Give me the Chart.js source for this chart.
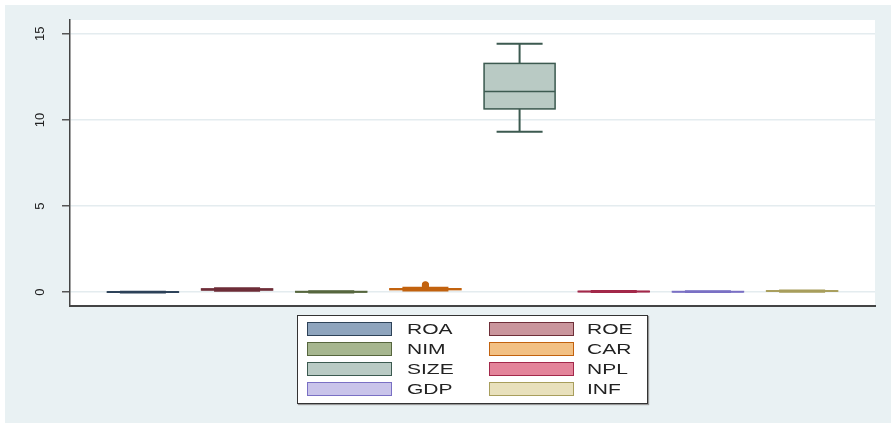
<!DOCTYPE html>
<html>
<head>
<meta charset="utf-8">
<script src="https://cdn.jsdelivr.net/npm/chart.js@4.4.0/dist/chart.umd.min.js"></script>
<style>
  html, body { margin: 0; padding: 0; background: #fff; }
  #wrap { position: relative; width: 891px; height: 423px; }
  #legend { position: absolute; left: 297px; top: 315px; width: 349px; height: 87px;
            background: #fff; border: 1px solid #333; box-shadow: 1px 1px 1px #999; }
  .sw { position: absolute; width: 83px; height: 12px; border: 1px solid; }
  .lb { position: absolute; font: 15px "Liberation Sans", Arial, sans-serif; color: #222;
        line-height: 15px; transform: scaleX(1.4); transform-origin: left center; }
</style>
</head>
<body>
<div id="wrap">
  <canvas id="box" width="891" height="423"></canvas>
  <div id="legend"></div>
</div>
<script>
// variables and their box plot summaries
const labels = ['ROA', 'ROE', 'NIM', 'CAR', 'SIZE', 'NPL', 'GDP', 'INF'];
const positions = [1, 2, 3, 4, 5, 6, 7, 8];
const lowerWhisker = [-0.02, 0.08, -0.01, 0.1, 9.32, 0.01, 0.01, 0.03];
const q1 = [0.0, 0.13, 0.01, 0.15, 10.64, 0.03, 0.02, 0.06];
const median = [0.01, 0.16, 0.02, 0.17, 11.65, 0.04, 0.03, 0.07];
const q3 = [0.02, 0.19, 0.04, 0.2, 13.28, 0.05, 0.04, 0.08];
const upperWhisker = [0.03, 0.23, 0.06, 0.26, 14.42, 0.07, 0.05, 0.1];
const outliers = [[], [], [], [0.32, 0.36, 0.4, 0.43], [], [], [], []];
const yTicks = [0, 5, 10, 15];

const fillColors = ['#8ea4bd', '#c9959c', '#a6b68f', '#f2c083', '#b9cac4', '#e3849a', '#c9c4ea', '#e8e0bc'];
const lineColors = ['#2d4258', '#6e2e38', '#56663e', '#c2620e', '#3c5a50', '#a3284a', '#7a70c4', '#a89e5c'];

// page background + white plot region
const background = {
  id: 'background',
  beforeDraw(chart) {
    const { ctx, chartArea: a } = chart;
    ctx.save();
    ctx.fillStyle = '#fff';
    ctx.fillRect(0, 0, chart.width, chart.height);
    ctx.fillStyle = '#e9f1f3';
    ctx.fillRect(5, 5, chart.width - 5, chart.height - 5);
    ctx.fillStyle = '#fff';
    ctx.fillRect(a.left, a.top, a.right - a.left, a.bottom - a.top);
    ctx.restore();
  }
};

// boxes, whiskers, medians and outside values
const boxParts = {
  id: 'boxParts',
  afterDatasetsDraw(chart) {
    const { ctx } = chart;
    const x = chart.scales.x, y = chart.scales.y;
    const bars = chart.getDatasetMeta(0).data;
    ctx.save();
    positions.forEach((p, i) => {
      const cx = x.getPixelForValue(p);
      const hw = bars[i].width / 2;
      const cap = 23;
      ctx.strokeStyle = lineColors[i];
      ctx.lineWidth = 2;
      ctx.beginPath();
      ctx.moveTo(cx, y.getPixelForValue(q3[i]));
      ctx.lineTo(cx, y.getPixelForValue(upperWhisker[i]));
      ctx.moveTo(cx, y.getPixelForValue(q1[i]));
      ctx.lineTo(cx, y.getPixelForValue(lowerWhisker[i]));
      ctx.moveTo(cx - cap, y.getPixelForValue(upperWhisker[i]));
      ctx.lineTo(cx + cap, y.getPixelForValue(upperWhisker[i]));
      ctx.moveTo(cx - cap, y.getPixelForValue(lowerWhisker[i]));
      ctx.lineTo(cx + cap, y.getPixelForValue(lowerWhisker[i]));
      ctx.stroke();
      ctx.lineWidth = 1.5;
      const top = y.getPixelForValue(q3[i]);
      const bot = y.getPixelForValue(q1[i]);
      ctx.strokeRect(cx - hw, top, hw * 2, bot - top);
      ctx.beginPath();
      ctx.moveTo(cx - hw, y.getPixelForValue(median[i]));
      ctx.lineTo(cx + hw, y.getPixelForValue(median[i]));
      ctx.stroke();
      outliers[i].forEach(v => {
        ctx.beginPath();
        ctx.arc(cx, y.getPixelForValue(v), 3.5, 0, Math.PI * 2);
        ctx.fillStyle = lineColors[i];
        ctx.fill();
      });
    });
    ctx.restore();
  }
};

// vertical tick labels like Stata
const yLabels = {
  id: 'yLabels',
  afterDraw(chart) {
    const { ctx } = chart;
    const y = chart.scales.y;
    ctx.save();
    ctx.fillStyle = '#222';
    ctx.font = '13px "Liberation Sans", Arial, sans-serif';
    ctx.textAlign = 'center';
    ctx.textBaseline = 'middle';
    yTicks.forEach(v => {
      ctx.save();
      ctx.translate(40, y.getPixelForValue(v));
      ctx.rotate(-Math.PI / 2);
      ctx.fillText(String(v), 0, 0);
      ctx.restore();
    });
    ctx.restore();
  }
};

new Chart(document.getElementById('box'), {
  type: 'bar',
  data: {
    datasets: [{
      data: positions.map((p, i) => ({ x: p, y: [q1[i], q3[i]] })),
      backgroundColor: fillColors,
      borderWidth: 0,
      barThickness: 71,
      grouped: false
    }]
  },
  options: {
    responsive: false,
    animation: false,
    layout: { padding: { left: 0, top: 20, right: 16, bottom: 117 } },
    plugins: { legend: { display: false }, tooltip: { enabled: false } },
    scales: {
      x: {
        type: 'linear',
        offset: false,
        min: 0.226,
        max: 8.774,
        ticks: { display: false },
        grid: { display: false, drawTicks: false, offset: false },
        border: { color: '#444', width: 2 },
        afterFit: s => { s.height = 0; }
      },
      y: {
        min: -0.8,
        max: 15.8,
        afterBuildTicks: s => { s.ticks = yTicks.map(v => ({ value: v })); },
        afterFit: s => { s.width = 70; },
        ticks: { display: false },
        grid: { color: '#e4ecef', lineWidth: 1.5, tickLength: 8, tickColor: '#555', tickWidth: 1.5 },
        border: { color: '#444', width: 1.5 }
      }
    }
  },
  plugins: [background, boxParts, yLabels]
});

// legend box, two columns
const legend = document.getElementById('legend');
labels.forEach((name, i) => {
  const col = i % 2, row = Math.floor(i / 2);
  const sw = document.createElement('div');
  sw.className = 'sw';
  sw.style.left = (col ? 191 : 9) + 'px';
  sw.style.top = (6 + row * 20) + 'px';
  sw.style.background = fillColors[i];
  sw.style.borderColor = lineColors[i];
  legend.appendChild(sw);
  const lb = document.createElement('div');
  lb.className = 'lb';
  lb.textContent = name;
  lb.style.left = (col ? 289 : 109) + 'px';
  lb.style.top = (5 + row * 20) + 'px';
  legend.appendChild(lb);
});
</script>
</body>
</html>
